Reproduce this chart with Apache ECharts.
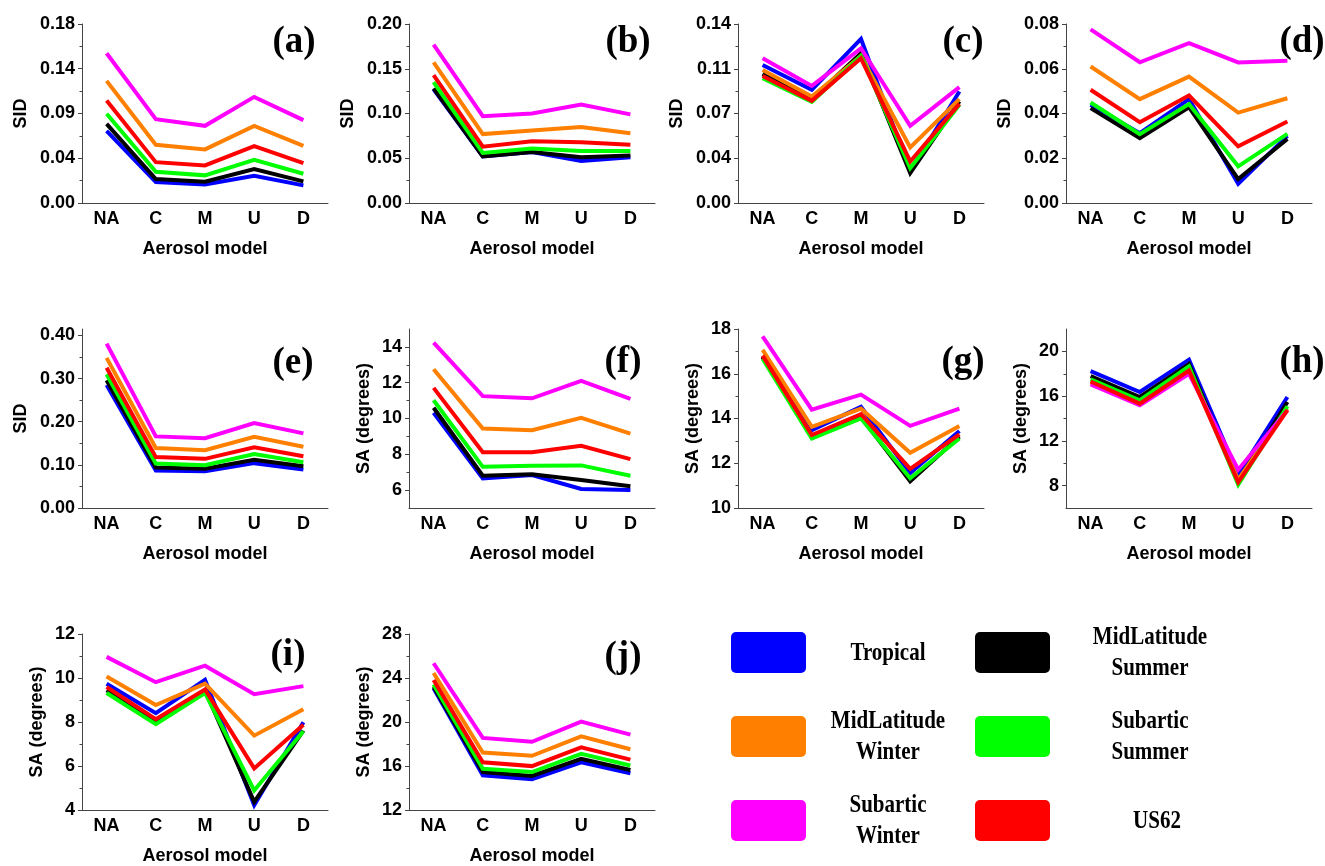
<!DOCTYPE html>
<html>
<head>
<meta charset="utf-8">
<script src="https://cdn.jsdelivr.net/npm/echarts@6/dist/echarts.min.js"></script>
<style>
  html, body { margin: 0; padding: 0; background: #ffffff; }
  #chart { width: 1325px; height: 866px; }
</style>
</head>
<body>
<div id="chart"></div>
<script>
// Aerosol model categories on every x axis
const categories = ['NA', 'C', 'M', 'U', 'D'];

// Atmosphere profiles (row order of every panel array below)
const seriesNames = ['Tropical', 'MidLatitude Summer', 'MidLatitude Winter', 'Subartic Summer', 'Subartic Winter', 'US62'];
const seriesColors = ['#0000ff', '#000000', '#ff8000', '#00ff00', '#ff00ff', '#ff0000'];

// Panel (a) SID
const panelA = [
  [0.0726, 0.0211, 0.0187, 0.0274, 0.0177],
  [0.0796, 0.0241, 0.0214, 0.0341, 0.0217],
  [0.1228, 0.0585, 0.0539, 0.0776, 0.0575],
  [0.0897, 0.0314, 0.0278, 0.0435, 0.0294],
  [0.1506, 0.0843, 0.0776, 0.1067, 0.0833],
  [0.1030, 0.0411, 0.0378, 0.0572, 0.0401]
];
// Panel (b) SID
const panelB = [
  [0.127, 0.052, 0.057, 0.047, 0.051],
  [0.128, 0.052, 0.057, 0.051, 0.053],
  [0.157, 0.077, 0.081, 0.085, 0.078],
  [0.135, 0.056, 0.061, 0.058, 0.058],
  [0.177, 0.097, 0.100, 0.110, 0.099],
  [0.143, 0.063, 0.069, 0.068, 0.065]
];
// Panel (c) SID
const panelC = [
  [0.1080, 0.0885, 0.1283, 0.0247, 0.0872],
  [0.1010, 0.0812, 0.1171, 0.0234, 0.0794],
  [0.1041, 0.0833, 0.1150, 0.0435, 0.0812],
  [0.0976, 0.0791, 0.1150, 0.0273, 0.0768],
  [0.1132, 0.0916, 0.1210, 0.0604, 0.0906],
  [0.0994, 0.0799, 0.1132, 0.0325, 0.0775]
];
// Panel (d) SID
const panelD = [
  [0.0439, 0.0312, 0.0464, 0.0086, 0.0300],
  [0.0424, 0.0290, 0.0428, 0.0107, 0.0286],
  [0.0610, 0.0464, 0.0565, 0.0404, 0.0468],
  [0.0449, 0.0308, 0.0442, 0.0164, 0.0309],
  [0.0776, 0.0629, 0.0714, 0.0628, 0.0636],
  [0.0506, 0.0361, 0.0480, 0.0253, 0.0364]
];
// Panel (e) SID
const panelE = [
  [0.285, 0.087, 0.085, 0.104, 0.089],
  [0.296, 0.094, 0.091, 0.112, 0.097],
  [0.348, 0.139, 0.134, 0.165, 0.142],
  [0.310, 0.103, 0.099, 0.125, 0.106],
  [0.381, 0.166, 0.162, 0.197, 0.173],
  [0.325, 0.118, 0.114, 0.141, 0.120]
];
// Panel (f) SA in degrees
const panelF = [
  [10.32, 6.65, 6.84, 6.06, 6.00],
  [10.60, 6.80, 6.89, 6.56, 6.22],
  [12.75, 9.44, 9.35, 10.04, 9.16],
  [11.02, 7.30, 7.36, 7.38, 6.80],
  [14.24, 11.25, 11.13, 12.10, 11.10],
  [11.71, 8.12, 8.12, 8.47, 7.73]
];
// Panel (g) SA in degrees
const panelG = [
  [16.78, 13.48, 14.52, 11.56, 13.44],
  [16.74, 13.19, 14.07, 11.19, 13.19],
  [17.07, 13.63, 14.44, 12.47, 13.67],
  [16.67, 13.11, 14.00, 11.33, 13.11],
  [17.67, 14.40, 15.07, 13.67, 14.44],
  [16.81, 13.26, 14.19, 11.75, 13.29]
];
// Panel (h) SA in degrees
const panelH = [
  [18.23, 16.37, 19.26, 8.98, 15.92],
  [17.78, 15.92, 18.88, 8.38, 15.48],
  [17.20, 15.48, 18.43, 8.53, 14.89],
  [17.49, 15.63, 18.67, 8.09, 15.09],
  [17.05, 15.18, 17.99, 9.42, 14.74],
  [17.31, 15.33, 18.29, 8.30, 14.74]
];
// Panel (i) SA in degrees
const panelI = [
  [9.74, 8.40, 9.92, 4.22, 7.99],
  [9.44, 8.05, 9.44, 4.37, 7.61],
  [10.07, 8.77, 9.74, 7.38, 8.58],
  [9.32, 7.90, 9.32, 4.89, 7.58],
  [10.96, 9.81, 10.56, 9.26, 9.63],
  [9.59, 8.13, 9.48, 5.89, 7.87]
];
// Panel (j) SA in degrees
const panelJ = [
  [23.07, 15.16, 14.80, 16.34, 15.34],
  [23.20, 15.45, 15.10, 16.66, 15.63],
  [24.46, 17.23, 16.93, 18.70, 17.52],
  [23.42, 15.75, 15.45, 17.11, 16.04],
  [25.34, 18.55, 18.20, 20.03, 18.85],
  [23.81, 16.34, 15.99, 17.70, 16.58]
];

// Y tick values, their printed labels and minor ticks, per panel
const ticksA = [0, 0.045, 0.09, 0.135, 0.18];
const labelsA = ['0.00', '0.04', '0.09', '0.14', '0.18'];
const minorA = [0.0225, 0.0675, 0.1125, 0.1575];
const ticksB = [0, 0.05, 0.10, 0.15, 0.20];
const labelsB = ['0.00', '0.05', '0.10', '0.15', '0.20'];
const minorB = [0.025, 0.075, 0.125, 0.175];
const ticksC = [0, 0.035, 0.07, 0.105, 0.14];
const labelsC = ['0.00', '0.04', '0.07', '0.11', '0.14'];
const minorC = [0.0175, 0.0525, 0.0875, 0.1225];
const ticksD = [0, 0.02, 0.04, 0.06, 0.08];
const labelsD = ['0.00', '0.02', '0.04', '0.06', '0.08'];
const minorD = [0.01, 0.03, 0.05, 0.07];
const ticksE = [0, 0.1, 0.2, 0.3, 0.4];
const labelsE = ['0.00', '0.10', '0.20', '0.30', '0.40'];
const minorE = [0.05, 0.15, 0.25, 0.35];
const ticksF = [6, 8, 10, 12, 14];
const labelsF = ['6', '8', '10', '12', '14'];
const minorF = [7, 9, 11, 13];
const ticksG = [10, 12, 14, 16, 18];
const labelsG = ['10', '12', '14', '16', '18'];
const minorG = [11, 13, 15, 17];
const ticksH = [8, 12, 16, 20];
const labelsH = ['8', '12', '16', '20'];
const minorH = [10, 14, 18];
const ticksI = [4, 6, 8, 10, 12];
const labelsI = ['4', '6', '8', '10', '12'];
const minorI = [5, 7, 9, 11];
const ticksJ = [12, 16, 20, 24, 28];
const labelsJ = ['12', '16', '20', '24', '28'];
const minorJ = [14, 18, 22, 26];

const panels = [
  { tag: '(a)', data: panelA, yName: 'SID', min: 0, max: 0.18, ticks: ticksA, labels: labelsA, minor: minorA },
  { tag: '(b)', data: panelB, yName: 'SID', min: 0, max: 0.20, ticks: ticksB, labels: labelsB, minor: minorB },
  { tag: '(c)', data: panelC, yName: 'SID', min: 0, max: 0.14, ticks: ticksC, labels: labelsC, minor: minorC },
  { tag: '(d)', data: panelD, yName: 'SID', min: 0, max: 0.08, ticks: ticksD, labels: labelsD, minor: minorD },
  { tag: '(e)', data: panelE, yName: 'SID', min: 0, max: 0.415, ticks: ticksE, labels: labelsE, minor: minorE },
  { tag: '(f)', data: panelF, yName: 'SA (degrees)', min: 5, max: 15, ticks: ticksF, labels: labelsF, minor: minorF },
  { tag: '(g)', data: panelG, yName: 'SA (degrees)', min: 10, max: 18, ticks: ticksG, labels: labelsG, minor: minorG },
  { tag: '(h)', data: panelH, yName: 'SA (degrees)', min: 6, max: 22, ticks: ticksH, labels: labelsH, minor: minorH },
  { tag: '(i)', data: panelI, yName: 'SA (degrees)', min: 4, max: 12, ticks: ticksI, labels: labelsI, minor: minorI },
  { tag: '(j)', data: panelJ, yName: 'SA (degrees)', min: 12, max: 28, ticks: ticksJ, labels: labelsJ, minor: minorJ }
];

// Layout: 4 columns x 3 rows of plot areas
const colLeft = [82, 409, 738, 1066];
const rowTop = [24, 329, 634];
const plotW = 246;
const plotH = 179;
// Centre of each "(x)" tag
const tagPos = [
  [294, 42], [628, 42], [963, 42], [1302, 42],
  [293, 363], [623, 362], [963, 362], [1302, 362],
  [288, 655], [623, 657]
];

const SANS = 'Liberation Sans, Arial, sans-serif';
const SERIF = 'Liberation Serif, Times New Roman, serif';
const AXIS_COLOR = '#444444';

const grid = [], xAxis = [], yAxis = [], series = [], graphic = [];

panels.forEach((p, i) => {
  const col = i % 4, row = Math.floor(i / 4);
  grid.push({ left: colLeft[col], top: rowTop[row], width: plotW, height: plotH, containLabel: false });

  xAxis.push({
    type: 'category', gridIndex: i, data: categories, boundaryGap: true,
    name: 'Aerosol model', nameLocation: 'middle', nameGap: 37,
    nameTextStyle: { fontFamily: SANS, fontWeight: 'bold', fontSize: 18, color: '#000' },
    axisLine: { lineStyle: { color: AXIS_COLOR, width: 1 } },
    axisTick: { alignWithLabel: true, length: 4, lineStyle: { color: AXIS_COLOR } },
    axisLabel: { fontFamily: SANS, fontWeight: 'bold', fontSize: 18, color: '#000', margin: 7 },
    splitLine: { show: false }
  });

  const fmt = (v) => {
    const k = p.ticks.findIndex(t => Math.abs(t - v) < 1e-9);
    return k >= 0 ? p.labels[k] : '';
  };
  const isSID = p.yName === 'SID';
  // main y axis with labelled ticks
  yAxis.push({
    type: 'value', gridIndex: i, min: p.min, max: p.max, position: 'left',
    name: p.yName, nameLocation: 'middle', nameGap: isSID ? 52 : 36, nameRotate: 90,
    nameTextStyle: { fontFamily: SANS, fontWeight: 'bold', fontSize: 18, color: '#000' },
    axisLine: { show: true, onZero: false, lineStyle: { color: AXIS_COLOR, width: 1 } },
    axisTick: { show: true, length: 4, customValues: p.ticks, lineStyle: { color: AXIS_COLOR } },
    axisLabel: { show: true, customValues: p.ticks, formatter: fmt, fontFamily: SANS, fontWeight: 'bold', fontSize: 18, color: '#000', margin: 7 },
    splitLine: { show: false }
  });
  // companion axis carrying only the minor ticks
  yAxis.push({
    type: 'value', gridIndex: i, min: p.min, max: p.max, position: 'left',
    axisLine: { show: false },
    axisTick: { show: true, length: 2.5, customValues: p.minor, lineStyle: { color: AXIS_COLOR } },
    axisLabel: { show: false },
    splitLine: { show: false }
  });

  p.data.forEach((vals, s) => {
    series.push({
      type: 'line', name: seriesNames[s], xAxisIndex: i, yAxisIndex: 2 * i,
      data: vals, symbol: 'none', silent: true, animation: false,
      lineStyle: { color: seriesColors[s], width: 4, join: 'miter' },
      itemStyle: { color: seriesColors[s] }
    });
  });

  graphic.push({
    type: 'text', x: tagPos[i][0], y: tagPos[i][1], silent: true,
    style: { text: p.tag, fontFamily: SERIF, fontWeight: 'bold', fontSize: 37, fill: '#000', align: 'center', verticalAlign: 'middle' }
  });
});

// Colour key: swatch boxes with profile names (two columns x three rows)
const keyOrder = [0, 2, 4, 1, 3, 5];
const keyText = ['Tropical', 'MidLatitude\nSummer', 'MidLatitude\nWinter', 'Subartic\nSummer', 'Subartic\nWinter', 'US62'];
const keyBoxX = [731, 975];
const keyBoxY = [632, 716, 800];
const keyTextX = [888, 1150];
keyOrder.forEach((s, k) => {
  const c = Math.floor(k / 3), r = k % 3;
  graphic.push({
    type: 'rect', silent: true,
    shape: { x: keyBoxX[c], y: keyBoxY[r], width: 75, height: 41, r: 5 },
    style: { fill: seriesColors[s] }
  });
  graphic.push({
    type: 'text', silent: true,
    x: keyTextX[c] + (s === 5 ? 7 : 0), y: keyBoxY[r] + 21,
    scaleX: 1, scaleY: 1.2,
    style: { text: keyText[s], fontFamily: SERIF, fontWeight: 'bold', fontSize: 21, lineHeight: 26, fill: '#000', align: 'center', verticalAlign: 'middle' }
  });
});

const chart = echarts.init(document.getElementById('chart'), null, { renderer: 'canvas' });
chart.setOption({
  animation: false,
  backgroundColor: '#ffffff',
  grid, xAxis, yAxis, series, graphic
});
</script>
</body>
</html>
